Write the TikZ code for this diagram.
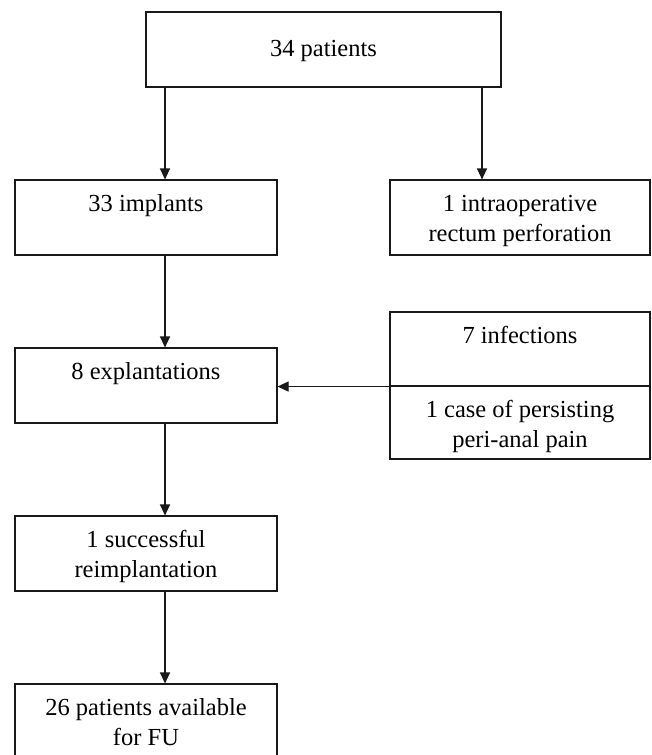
\documentclass[tikz,border=0pt]{standalone}
\usepackage{fontspec}
\setmainfont{Liberation Serif}
\usetikzlibrary{arrows.meta,calc}
\newcommand\myStrut{\rule{0pt}{18pt}}
\begin{document}
\begin{tikzpicture}[x=1pt,y=-1pt,
  box/.style={draw=black!90,line width=1.1pt,rectangle,inner sep=0pt,minimum width=#1,minimum height=75pt},
  box/.default=262pt,
  txt/.style={inner sep=0pt,align=center,anchor=north,font=\fontsize{24.5}{30}\selectfont},
  arr/.style={draw=black!90,line width=1.1pt,-{Triangle[length=11pt,width=10pt]}}]
\useasboundingbox (0,0) rectangle (652,755);
% boxes
\node[box=355pt] (top) at (323.5,49.5) {};
\node[box] (impl) at (146,217.5) {};
\node[box=260pt] (perf) at (520,217.5) {};
\node[box] (expl) at (146,385.5) {};
\node[box=260pt,minimum height=74pt] (inf) at (520,349) {};
\node[box=260pt,minimum height=73pt] (pain) at (520,422.5) {};
\node[box] (reimp) at (146,553.5) {};
\node[box] (fu) at (146,721.5) {};
% texts
\node[txt,anchor=base] (ttop) at ($(top.north)+(0,45)$) {34 patients};
\node[txt] (timpl) at ($(impl.north)+(0,14)$) {\myStrut 33 implants};
\node[txt] (tperf) at ($(perf.north)+(0,14)$) {\myStrut 1 intraoperative\\rectum perforation};
\node[txt] (texpl) at ($(expl.north)+(0,14)$) {\myStrut 8 explantations};
\node[txt] (tinf) at ($(inf.north)+(0,14)$) {\myStrut 7 infections};
\node[txt] (tpain) at ($(pain.north)+(0,14)$) {\myStrut 1 case of persisting\\peri-anal pain};
\node[txt] (treimp) at ($(reimp.north)+(0,14)$) {\myStrut 1 successful\\reimplantation};
\node[txt] (tfu) at ($(fu.north)+(0,14)$) {\myStrut 26 patients available\\for FU};
% arrow columns
\coordinate (lx) at (165,0);
\coordinate (rx) at (482,0);
% connectors
\draw[arr] (top.south -| lx) -- (impl.north -| lx);
\draw[arr] (top.south -| rx) -- (perf.north -| rx);
\draw[arr] (impl.south -| lx) -- (expl.north -| lx);
\draw[arr] (inf.south west) -- (inf.south west -| expl.east);
\draw[arr] (expl.south -| lx) -- (reimp.north -| lx);
\draw[arr] (reimp.south -| lx) -- (fu.north -| lx);
\end{tikzpicture}
\end{document}
